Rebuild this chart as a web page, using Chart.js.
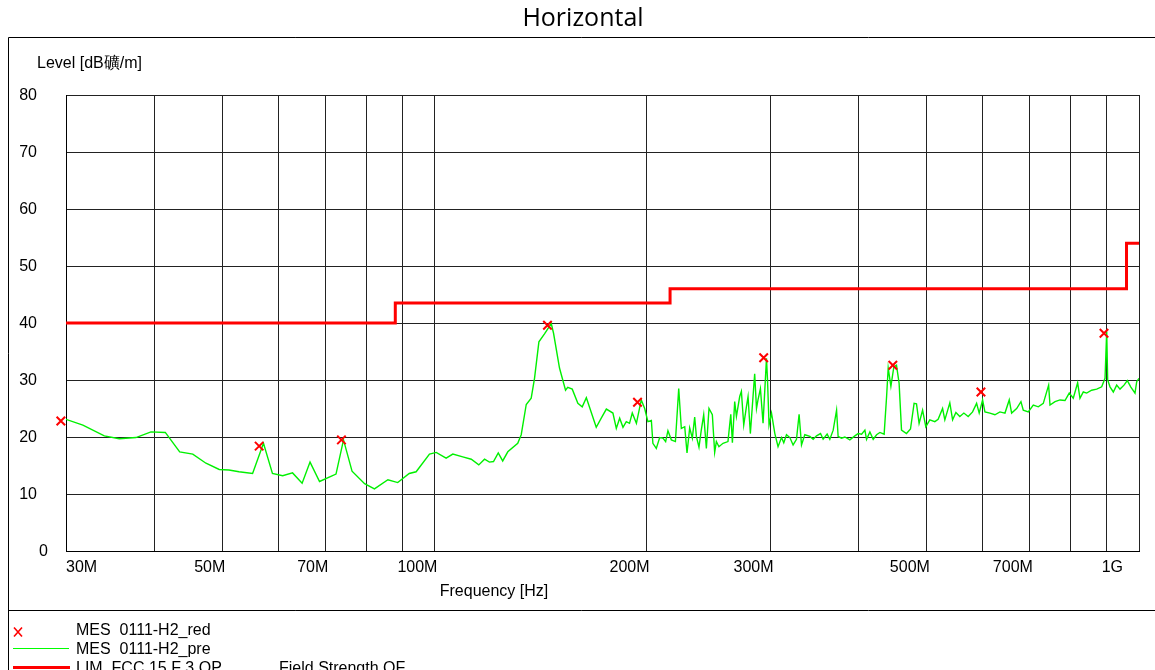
<!DOCTYPE html>
<html>
<head>
<meta charset="utf-8">
<script src="https://cdn.jsdelivr.net/npm/chart.js@4.4.0/dist/chart.umd.min.js"></script>
<style>
  body { margin: 0; background: #fff; }
  canvas { display: block; }
</style>
</head>
<body>
<canvas id="emc" width="1155" height="670"></canvas>
<script>
// ---------------- data (frequency in MHz, level in dBuV/m) ----------------
// preview scan (green trace)
var preFreq = [
  30.0, 31.7, 34.0, 35.7, 37.7, 39.6, 41.5, 43.5, 45.4, 47.4, 49.5, 51.1, 52.8, 55.2, 57.2, 58.9,
  60.9, 62.9, 64.9, 66.6, 68.7, 72.5, 74.3, 76.4, 79.6, 82.2, 85.9, 88.7, 92.1, 94.2, 98.4,
  100.6, 103.9, 106.2, 109.7, 112.8, 115.6, 117.8, 119.7, 121.3, 123.2, 125.0, 127.1, 131.3, 132.8,
  135.0, 137.2, 138.7, 140.7, 143.3, 146.5, 147.6, 150.5, 153.5, 154.6, 156.9, 159.8, 162.1, 164.3,
  169.7, 172.5, 175.4, 179.2, 181.2, 183.2, 185.2, 187.2, 189.2, 190.9, 193.5, 196.6, 198.8, 200.9,
  203.2, 204.2, 206.5, 208.8, 211.0, 212.9, 214.5, 216.9, 219.8, 222.2, 224.1, 226.6, 228.3, 230.3,
  232.3, 234.1, 235.4, 237.4, 239.2, 241.1, 243.2, 245.3, 248.0, 249.9, 251.3, 253.4, 256.8, 261.0,
  263.4, 264.8, 266.8, 268.3, 271.2, 272.7, 274.8, 277.2, 278.7, 280.8, 284.8, 286.5, 287.9, 290.2,
  292.7, 296.0, 297.0, 298.5, 300.9, 304.2, 307.4, 310.9, 313.2, 316.0, 319.5, 322.9, 326.5, 329.3,
  331.9, 335.5, 341.1, 344.8, 348.6, 353.2, 356.2, 360.9,
  364.1, 368.1, 372.2, 374.1, 378.3, 382.4, 388.7, 395.1, 399.4, 403.9, 408.3, 410.5, 415.0, 419.5,
  424.2, 428.8, 434.8, 438.3, 440.6, 444.5, 448.8, 452.7, 456.6, 460.2, 467.7, 473.9, 479.5, 483.3,
  487.4, 493.0, 498.2, 504.8, 513.1, 518.7, 526.3, 530.2, 538.9, 543.8, 549.7, 556.8, 564.2, 572.2,
  580.5, 588.2, 593.2, 599.8, 604.4, 614.3, 624.5, 634.8, 645.3, 654.4, 659.5, 670.4, 679.9, 685.1,
  696.4, 707.9, 719.6, 731.4, 744.3, 747.6, 760.0, 772.5, 785.2, 796.2, 806.7, 818.3, 824.6, 833.6,
  842.8, 856.7, 870.9, 885.2, 894.9, 899.8, 902.7, 909.6, 919.5, 929.7, 939.8, 952.2, 962.6, 973.3,
  987.0, 992.5, 1000
];
var preLevel = [
  23.1, 22.1, 20.2, 19.7, 19.9, 20.9, 20.8, 17.4, 17.0, 15.4, 14.3, 14.2, 13.9, 13.6, 18.9, 13.6,
  13.2, 13.7, 11.9, 15.6, 12.2, 13.5, 19.5, 14.0, 11.8, 10.9, 12.5, 12.0, 13.6, 13.9, 17.0,
  17.3, 16.3, 17.0, 16.5, 16.1, 15.1, 16.1, 15.6, 15.7, 17.2, 15.8, 17.4, 18.9, 20.4,
  25.7, 26.8, 30.3, 36.7, 38.1, 39.9, 38.2, 32.1, 28.2, 28.7, 28.4, 25.9, 25.3, 26.9,
  21.7, 23.3, 24.9, 24.2, 21.5, 23.3, 21.7, 22.7, 22.4, 24.2, 22.4, 26.5, 25.0, 22.7,
  22.9, 18.9, 18.0, 19.9, 19.8, 19.2, 21.1, 19.5, 19.2, 28.5, 21.5, 21.8, 17.2, 21.6,
  19.8, 23.5, 20.1, 18.2, 21.2, 23.9, 18.0, 25.0, 23.9, 17.3, 19.2, 18.3, 18.9, 19.2,
  24.0, 19.0, 26.2, 23.6, 27.1, 28.0, 22.1, 25.3, 27.1, 20.6, 31.1, 25.0, 26.5, 28.5,
  22.4, 33.8, 30.0, 22.1, 24.2, 20.6, 18.3, 19.9, 19.0, 20.4, 19.9, 18.6, 19.6, 24.0,
  18.6, 20.4, 20.1, 19.6, 20.2, 20.6, 19.6, 20.5,
  19.6, 21.2, 24.7, 20.1, 19.8, 20.0, 19.5, 20.2, 20.6, 20.5, 21.2, 19.6, 20.9, 19.6,
  20.4, 20.8, 20.5, 27.1, 32.1, 28.9, 32.3, 32.6, 29.4, 21.2, 20.6, 21.4, 25.9, 25.8,
  22.4, 24.7, 21.8, 23.0, 22.7, 23.1, 25.0, 23.0, 26.0, 23.0, 24.3, 23.6, 24.2, 23.6,
  24.4, 25.9, 24.2, 26.5, 24.4, 24.2, 23.9, 24.4, 24.2, 26.5, 24.2, 25.0, 26.2, 24.7,
  24.4, 25.6, 25.3, 25.9, 29.1, 25.6, 26.2, 26.5, 26.4, 27.7, 26.8, 29.5, 26.8, 27.9,
  27.7, 28.2, 28.4, 28.8, 30.3, 38.5, 30.0, 28.8, 27.9, 29.1, 28.4, 29.1, 29.9, 28.8,
  27.7, 29.7, 30.3
];
// final measurement points (red x)
var redFreq = [29.5, 56.4, 73.8, 144.7, 194.2, 293.3, 447.3, 596.6, 891.9];
var redLevel = [22.8, 18.4, 19.5, 39.6, 26.1, 33.9, 32.6, 27.9, 38.2];
// FCC 15 class B QP limit (step starts at each frequency)
var limFreq = [30, 88, 216, 960, 1000];
var limLevel = [40, 43.5, 46, 54, 54];
// axes
var gridFreq = [30, 40, 50, 60, 70, 80, 90, 100, 200, 300, 400, 500, 600, 700, 800, 900, 1000];
var xTickFreq = [30, 50, 70, 100, 200, 300, 500, 700, 1000];
var xTickText = ['30M', '50M', '70M', '100M', '200M', '300M', '500M', '700M', '1G'];
var yTicks = [0, 10, 20, 30, 40, 50, 60, 70, 80];
var titleText = 'Horizontal';
var xTitle = 'Frequency [Hz]';
var yTitle = 'Level [dB礦/m]';
var legendNames = ['MES  0111-H2_red', 'MES  0111-H2_pre', 'LIM  FCC 15 F 3 QP'];
var legendExtra = 'Field Strength QF';

function pts(xs, ys) {
  return xs.map(function (x, i) { return { x: x, y: ys[i] }; });
}

var txtFont = '16px "Liberation Sans", Arial, sans-serif';

// frame, titles, tick labels and legend
var decor = {
  id: 'decor',
  afterDraw: function (chart) {
    var ctx = chart.ctx;
    var xs = chart.scales.x, ys = chart.scales.y, area = chart.chartArea;
    ctx.save();
    ctx.strokeStyle = '#000';
    ctx.lineWidth = 1;
    ctx.beginPath();
    ctx.moveTo(8.5, 670); ctx.lineTo(8.5, 37.5); ctx.lineTo(1155, 37.5);
    ctx.moveTo(8.5, 610.5); ctx.lineTo(1155, 610.5);
    ctx.stroke();

    ctx.fillStyle = '#000';
    ctx.textBaseline = 'middle';
    ctx.font = '25px "Open Sans", sans-serif';
    ctx.textAlign = 'center';
    ctx.fillText(titleText, 583, 19);

    ctx.font = txtFont;
    ctx.textAlign = 'left';
    ctx.fillText(yTitle, 37, 64);
    ctx.textAlign = 'center';
    ctx.fillText(xTitle, 494, 592);

    // y tick labels
    ctx.textAlign = 'right';
    yTicks.forEach(function (v) {
      ctx.fillText(String(v), v === 0 ? 48 : 37, ys.getPixelForValue(v) + 1);
    });

    // x tick labels, drawn left of their grid line like the original
    xTickFreq.forEach(function (f, i) {
      var px = xs.getPixelForValue(f);
      var t = xTickText[i];
      var w = ctx.measureText(t).width;
      var right = px + 3;
      if (right - w < area.left) right = area.left + w;
      if (right > area.right - 16) right = area.right - 16;
      ctx.textAlign = 'right';
      ctx.fillText(t, right, 568);
    });

    // legend
    ctx.textAlign = 'left';
    ctx.strokeStyle = '#ff0000';
    ctx.lineWidth = 1.6;
    ctx.beginPath();
    ctx.moveTo(14, 627.5); ctx.lineTo(22, 636.5);
    ctx.moveTo(22, 627.5); ctx.lineTo(14, 636.5);
    ctx.stroke();
    ctx.fillStyle = '#000';
    ctx.fillText(legendNames[0], 76, 631);
    ctx.fillText(legendNames[1], 76, 650);
    ctx.fillText(legendNames[2], 76, 669);
    ctx.fillText(legendExtra, 279, 669);
    ctx.strokeStyle = '#00ff00';
    ctx.lineWidth = 1;
    ctx.beginPath(); ctx.moveTo(13, 648.5); ctx.lineTo(69, 648.5); ctx.stroke();
    ctx.strokeStyle = '#ff0000';
    ctx.lineWidth = 3;
    ctx.beginPath(); ctx.moveTo(13, 667.5); ctx.lineTo(70, 667.5); ctx.stroke();
    ctx.restore();
  }
};

var gridStyle = { color: '#222', lineWidth: 1, drawTicks: false };

new Chart(document.getElementById('emc').getContext('2d'), {
  type: 'line',
  data: {
    datasets: [
      {
        label: legendNames[2],
        data: pts(limFreq, limLevel),
        borderColor: '#ff0000',
        borderWidth: 3,
        stepped: true,
        pointRadius: 0,
        order: 2
      },
      {
        label: legendNames[1],
        data: pts(preFreq, preLevel),
        borderColor: '#00f000',
        borderWidth: 1.4,
        tension: 0,
        pointRadius: 0,
        order: 1
      },
      {
        label: legendNames[0],
        data: pts(redFreq, redLevel),
        showLine: false,
        pointStyle: 'crossRot',
        pointRadius: 6,
        pointBorderWidth: 2,
        pointBorderColor: '#ff0000',
        clip: false,
        order: 0
      }
    ]
  },
  options: {
    responsive: false,
    animation: false,
    layout: { padding: { left: 66, right: 16, top: 95, bottom: 119 } },
    plugins: { legend: { display: false }, tooltip: { enabled: false } },
    scales: {
      x: {
        type: 'logarithmic',
        min: 30,
        max: 1000,
        afterBuildTicks: function (s) { s.ticks = gridFreq.map(function (v) { return { value: v }; }); },
        ticks: { display: false },
        grid: gridStyle,
        border: { color: '#000' }
      },
      y: {
        min: 0,
        max: 80,
        ticks: { display: false, stepSize: 10 },
        grid: gridStyle,
        border: { color: '#000' }
      }
    }
  },
  plugins: [decor]
});
</script>
</body>
</html>
